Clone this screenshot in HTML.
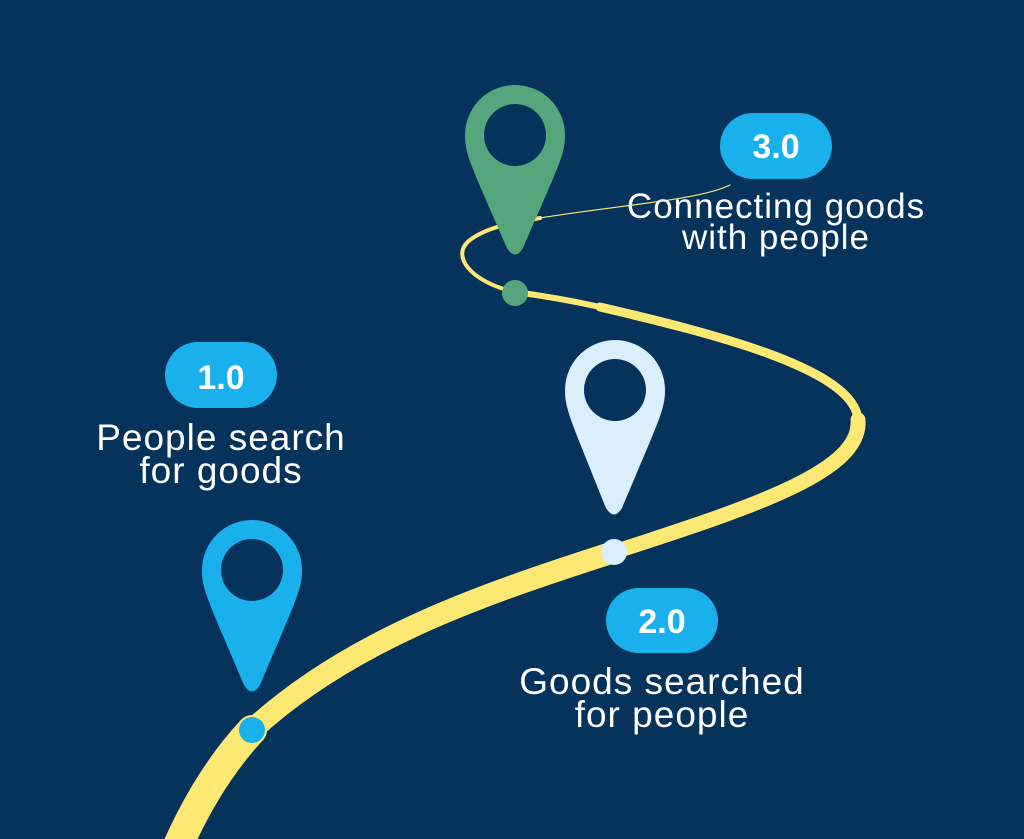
<!DOCTYPE html>
<html><head><meta charset="utf-8"><style>
html,body{margin:0;padding:0;background:#05335c;}
svg{display:block}
text{font-family:"Liberation Sans","DejaVu Sans",sans-serif;fill:#fff;}
</style></head><body>
<svg width="1024" height="839" viewBox="0 0 1024 839" xmlns="http://www.w3.org/2000/svg">
<rect width="1024" height="839" fill="#05335c"/>
<!-- road -->
<g fill="none" stroke="#fde874" stroke-linecap="round">
<path d="M176 850 C198 800 224 760 252 730" stroke-width="30"/>
<path d="M252 730 C350 640 480 595 614 552" stroke-width="22"/>
<path d="M614 552 C760 505 862 470 858 420" stroke-width="15"/>
<path d="M858 420 C855 370 720 335 600 307" stroke-width="9"/>
<path d="M600 307 C560 298 530 294 515 292" stroke-width="6"/>
<path d="M515 292 C470 282 450 255 470 240 C490 225 520 222 540 218" stroke-width="4"/>
<path d="M540 218 C620 205 700 200 730 185" stroke-width="1.2"/>
</g>
<!-- pins -->
<path fill-rule="evenodd" fill="#1ab0ec" d="M202 570 A50 50 0 0 1 302 570 C302 590 296 600 260 685 Q252 698 244 685 C208 600 202 590 202 570 Z M221 570 A31 31 0 1 0 283 570 A31 31 0 1 0 221 570 Z"/>
<path fill-rule="evenodd" fill="#dbeefc" d="M565 390 A50 50 0 0 1 665 390 C665 410 659 420 622 508 Q614 521 606 508 C571 420 565 410 565 390 Z M584 390 A31 31 0 1 0 646 390 A31 31 0 1 0 584 390 Z"/>
<path fill-rule="evenodd" fill="#55a67c" d="M465 135 A50 50 0 0 1 565 135 C565 155 559 165 523 248 Q515 261 507 248 C471 165 465 155 465 135 Z M484 135 A31 31 0 1 0 546 135 A31 31 0 1 0 484 135 Z"/>
<circle cx="252" cy="730" r="13" fill="#1ab0ec"/>
<circle cx="614" cy="552" r="13" fill="#dbeefc"/>
<circle cx="515" cy="293" r="13" fill="#55a67c"/>
<!-- badges -->
<rect x="165" y="342" width="112" height="66" rx="33" fill="#1ab0ec"/>
<text x="221" y="389" text-anchor="middle" font-size="34" font-weight="bold">1.0</text>
<rect x="606" y="588" width="112" height="65" rx="32.5" fill="#1ab0ec"/>
<text x="662" y="633" text-anchor="middle" font-size="34" font-weight="bold">2.0</text>
<rect x="720" y="113" width="112" height="66" rx="33" fill="#1ab0ec"/>
<text x="776" y="158" text-anchor="middle" font-size="34" font-weight="bold">3.0</text>
<!-- labels -->
<g font-size="37" text-anchor="middle" letter-spacing="1">
<text x="221" y="450">People search</text>
<text x="221" y="483">for goods</text>
<text x="662" y="694">Goods searched</text>
<text x="662" y="727">for people</text>
</g>
<g font-size="35" text-anchor="middle" letter-spacing="1">
<text x="776" y="218">Connecting goods</text>
<text x="776" y="249">with people</text>
</g>
</svg>
</body></html>
